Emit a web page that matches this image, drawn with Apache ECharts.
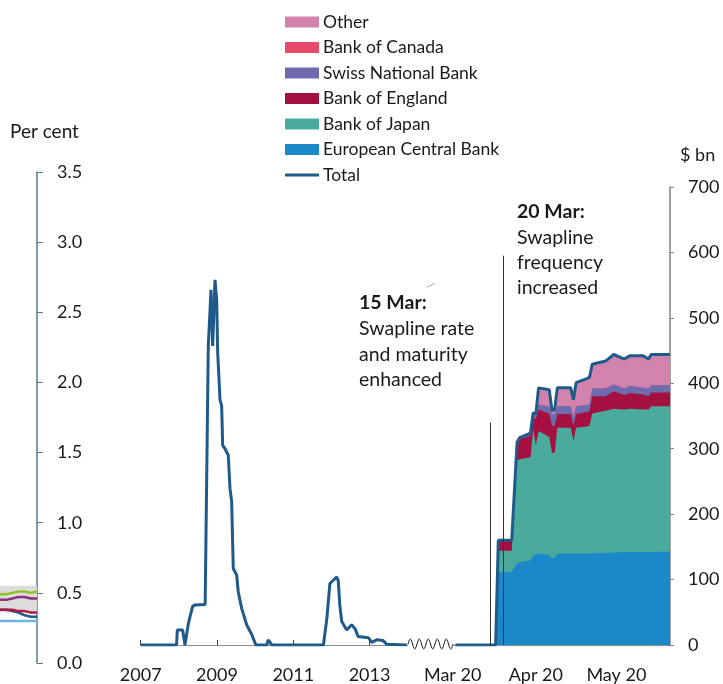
<!DOCTYPE html>
<html>
<head>
<meta charset="utf-8">
<title>US dollar swap lines</title>
<script src="https://cdn.jsdelivr.net/npm/echarts@6/dist/echarts.min.js"></script>
<style>
  html, body { margin: 0; padding: 0; background: #fff; }
  #chart { width: 723px; height: 684px; }
</style>
</head>
<body>
<div id="chart"></div>
<script>
// left panel (per cent) - only its right edge shows in this crop
const leftCats = [1, 2, 3, 4, 5, 6, 7];
const leftGreen = [0.49, 0.49, 0.50, 0.51, 0.51, 0.50, 0.51];
const leftPurple = [0.45, 0.45, 0.46, 0.47, 0.47, 0.46, 0.46];
const leftCrimson = [0.38, 0.38, 0.38, 0.37, 0.37, 0.36, 0.36];
const leftNavy = [0.38, 0.38, 0.37, 0.36, 0.34, 0.33, 0.33];
const leftLightBlue = [0.30, 0.30, 0.30, 0.30, 0.30, 0.30, 0.30];
const leftBandLow = [0.36, 0.36, 0.36, 0.36, 0.36, 0.36, 0.36];
const leftBandHigh = [0.55, 0.55, 0.55, 0.55, 0.55, 0.55, 0.55];

// 2007-2013 swap line usage ($ bn), x in decimal years
const crisisYears = [2007.00, 2007.94, 2007.96, 2008.10, 2008.16, 2008.21, 2008.25, 2008.36, 2008.42, 2008.69,
  2008.725, 2008.772, 2008.843, 2008.887, 2008.948, 2008.992, 2009.018, 2009.052, 2009.079, 2009.123,
  2009.149, 2009.21, 2009.296, 2009.341, 2009.385, 2009.427, 2009.516, 2009.558, 2009.647, 2009.778,
  2009.91, 2010.02, 2010.31, 2010.34, 2010.39, 2010.44, 2011.79, 2011.88, 2011.96, 2012.05,
  2012.14, 2012.18, 2012.22, 2012.27, 2012.40, 2012.53, 2012.62, 2012.70, 2012.97, 2013.06,
  2013.19, 2013.35, 2013.45, 2013.98];
const crisisTotal = [0, 0, 23, 23, 0, 0, 33, 59, 61, 62,
  64, 457, 543, 457, 558, 528, 447, 444, 375, 365,
  305, 300, 290, 239, 219, 117, 107, 81, 56, 31,
  16, 0, 0, 8, 6, 0, 0, 40, 94, 99,
  104, 98, 61, 36, 23, 31, 25, 13, 11, 4,
  8, 7, 1, 0];
const crisisTicks = [2007, 2009, 2011, 2013];

// 2020 swap line usage by central bank ($ bn)
const swapDates = ['2020-03-02', '2020-03-17', '2020-03-18', '2020-03-23', '2020-03-25', '2020-03-26',
  '2020-03-30', '2020-03-31', '2020-04-01', '2020-04-02', '2020-04-06', '2020-04-07', '2020-04-08',
  '2020-04-09', '2020-04-14', '2020-04-15', '2020-04-16', '2020-04-20', '2020-04-21', '2020-04-22',
  '2020-04-27', '2020-04-30', '2020-05-04', '2020-05-06', '2020-05-11', '2020-05-13', '2020-05-14',
  '2020-05-21'];
const ecb = [0, 0, 112, 112, 125, 127, 129, 136, 138, 140, 138, 132, 134, 140, 140, 140, 140, 140, 140, 140,
  141, 141, 142, 142, 142, 142, 142, 143];
const boj = [0, 0, 32, 32, 157, 157, 158, 194, 167, 187, 180, 162, 160, 192, 192, 172, 192, 194, 195, 214,
  217, 220, 218, 219, 218, 218, 223, 222];
const boe = [0, 0, 16, 16, 28, 31, 33, 18, 40, 33, 36, 41, 41, 21, 21, 23, 21, 22, 22, 26,
  22, 27, 22, 24, 23, 20, 21, 21];
const snb = [0, 0, 0, 0, 0, 1, 2, 4, 5, 8, 10, 18, 18, 12, 12, 13, 12, 11, 11, 12,
  12, 10, 10, 11, 10, 12, 11, 11];
const boc = [0, 0, 0, 0, 0, 0, 0, 0, 0, 0, 0, 0, 0, 0, 0, 0, 0, 0, 0, 0,
  0, 0, 0, 0, 0, 0, 0, 0];
const other = [0, 0, 0, 0, 0, 1, 2, 3, 3, 25, 26, 5, 7, 28, 28, 27, 36, 40, 41, 37,
  42, 46, 45, 46, 49, 45, 47, 47];
const total = [0, 0, 160, 160, 310, 317, 324, 355, 353, 393, 390, 358, 360, 393, 393, 375, 401, 407, 409, 429,
  434, 444, 437, 442, 442, 437, 444, 444];
const recentStart = '2020-03-01';
const recentEnd = '2020-05-21';
const recentTicks = ['2020-03-01', '2020-04-01', '2020-05-01'];
const recentLabels = ['Mar 20', 'Apr 20', 'May 20'];
// policy dates and how far up each marker line reaches ($ bn)
const policyDates = ['2020-03-15', '2020-03-20'];
const policyLineTops = [340, 595];

const FONT = 'Lato';
const TOTAL_COLOR = '#1f5a8a';
const bankColors = {
  'European Central Bank': '#1a88c9',
  'Bank of Japan': '#4aab9c',
  'Bank of England': '#a4103f',
  'Swiss National Bank': '#6f6baf',
  'Bank of Canada': '#e84a6c',
  'Other': '#d283ad'
};

// 2020 axis runs in days counted from 1 March
const dayOf = (s) => {
  const [y, m, d] = s.split('-').map(Number);
  return Math.round((Date.UTC(y, m - 1, d) - Date.UTC(2020, 2, 1)) / 86400000);
};
const pairs = (xs, ys) => xs.map((x, i) => [x, ys[i]]);
const dayPairs = (ys) => swapDates.map((d, i) => [dayOf(d), ys[i]]);
const tickDays = recentTicks.map(dayOf);

const chart = echarts.init(document.getElementById('chart'));

// stack bottom to top; each layer is drawn as its running total filled down to zero,
// top layer first so the lower ones paint over it
const stackOrder = [
  ['European Central Bank', ecb],
  ['Bank of Japan', boj],
  ['Bank of England', boe],
  ['Swiss National Bank', snb],
  ['Bank of Canada', boc],
  ['Other', other]
];
let running = swapDates.map(() => 0);
const areaSeries = stackOrder.map(([name, vals]) => {
  running = running.map((r, i) => r + vals[i]);
  return {
    name,
    type: 'line',
    xAxisIndex: 1,
    yAxisIndex: 1,
    data: dayPairs(running),
    showSymbol: false,
    lineStyle: { width: 0 },
    itemStyle: { color: bankColors[name] },
    areaStyle: { color: bankColors[name], opacity: 1 },
    silent: true
  };
}).reverse();

const leftLine = (data, color) => ({
  type: 'line', xAxisIndex: 2, yAxisIndex: 2, data, showSymbol: false, silent: true,
  lineStyle: { color, width: 2.5 }, itemStyle: { color }
});

// little zigzag for the axis break
const squiggle = [];
for (let i = 0; i <= 60; i++) {
  squiggle.push([408 + 45 * i / 60, 644 - 5 * Math.sin(i / 60 * Math.PI * 10)]);
}

const txt = (x, y, text, size, bold) => ({
  type: 'text', left: x, top: y - size * 0.48,
  style: { text, fill: '#1a1a1a', font: (bold ? 'bold ' : '') + size + 'px ' + FONT }
});

const tickLabel = { fontSize: 18, color: '#1a1a1a', fontFamily: FONT };

const option = {
  animation: false,
  backgroundColor: '#fff',
  textStyle: { fontFamily: FONT },
  legend: {
    orient: 'vertical',
    left: 285,
    top: 13,
    padding: 0,
    itemWidth: 34,
    itemHeight: 11,
    itemGap: 7.5,
    selectedMode: false,
    textStyle: { fontSize: 17.5, color: '#1a1a1a', fontFamily: FONT, lineHeight: 17, padding: [0, 0, 0, -1] },
    data: [
      { name: 'Other', icon: 'rect' },
      { name: 'Bank of Canada', icon: 'rect' },
      { name: 'Swiss National Bank', icon: 'rect' },
      { name: 'Bank of England', icon: 'rect' },
      { name: 'Bank of Japan', icon: 'rect' },
      { name: 'European Central Bank', icon: 'rect' },
      { name: 'Total', icon: 'path://M0,0 L35,0 L35,3 L0,3 Z', itemStyle: { color: TOTAL_COLOR } }
    ]
  },
  grid: [
    { left: 140.7, top: 187, width: 267, height: 460 },
    { left: 452.7, top: 187, width: 217.3, height: 460 },
    { left: 0, top: 172, width: 37, height: 491 }
  ],
  xAxis: [
    {
      gridIndex: 0, type: 'value', min: 2007, max: 2014,
      axisLine: { onZero: false, lineStyle: { color: '#8c8c8c', width: 1 } },
      axisTick: { inside: true, length: 5, customValues: crisisTicks, lineStyle: { color: '#404040' } },
      axisLabel: { ...tickLabel, customValues: crisisTicks, margin: 21, formatter: (v) => String(v) },
      splitLine: { show: false }
    },
    {
      gridIndex: 1, type: 'value', min: dayOf(recentStart), max: dayOf(recentEnd),
      axisLine: { onZero: false, lineStyle: { color: '#8c8c8c', width: 1 } },
      axisTick: { inside: true, length: 5, customValues: tickDays.slice(1), lineStyle: { color: '#404040' } },
      axisLabel: {
        ...tickLabel, customValues: tickDays, margin: 21,
        formatter: (v) => recentLabels[tickDays.indexOf(v)] || ''
      },
      splitLine: { show: false }
    },
    {
      gridIndex: 2, type: 'category', data: leftCats, boundaryGap: false, show: false
    }
  ],
  yAxis: [
    { gridIndex: 0, type: 'value', min: 0, max: 700, show: false },
    {
      gridIndex: 1, type: 'value', position: 'right', min: 0, max: 700, interval: 100,
      axisLine: { show: true, onZero: false, lineStyle: { color: '#808080', width: 1.5 } },
      axisTick: { show: true, length: 4, lineStyle: { color: '#808080' } },
      axisLabel: { ...tickLabel, margin: 18 },
      splitLine: { show: false }
    },
    {
      gridIndex: 2, type: 'value', position: 'right', min: 0, max: 3.5, interval: 0.5,
      axisLine: { show: true, onZero: false, lineStyle: { color: '#5a7796', width: 1.5 } },
      axisTick: { show: true, length: 6, lineStyle: { color: '#5a7796' } },
      axisLabel: { ...tickLabel, margin: 20, formatter: (v) => v.toFixed(1) },
      splitLine: { show: false }
    }
  ],
  series: [
    // left panel: grey range band then lines
    { type: 'line', xAxisIndex: 2, yAxisIndex: 2, stack: 'band', data: leftBandLow, showSymbol: false,
      lineStyle: { width: 0 }, silent: true },
    { type: 'line', xAxisIndex: 2, yAxisIndex: 2, stack: 'band', showSymbol: false, silent: true,
      data: leftBandHigh.map((v, i) => +(v - leftBandLow[i]).toFixed(2)),
      lineStyle: { width: 0 }, areaStyle: { color: '#dcdcdc', opacity: 1 } },
    leftLine(leftLightBlue, '#6cb4e4'),
    leftLine(leftNavy, TOTAL_COLOR),
    leftLine(leftCrimson, '#b0184a'),
    leftLine(leftPurple, '#8a2f7a'),
    leftLine(leftGreen, '#8fc31f'),

    // 2007-2013 total
    {
      name: 'Total', type: 'line', xAxisIndex: 0, yAxisIndex: 0,
      data: pairs(crisisYears, crisisTotal), showSymbol: false, silent: true,
      lineStyle: { color: TOTAL_COLOR, width: 3 }, itemStyle: { color: TOTAL_COLOR }
    },

    ...areaSeries,

    // 2020 total
    {
      name: 'Total', type: 'line', xAxisIndex: 1, yAxisIndex: 1,
      data: dayPairs(total), showSymbol: false, silent: true, z: 5,
      lineStyle: { color: TOTAL_COLOR, width: 3 }, itemStyle: { color: TOTAL_COLOR }
    },

    // the two policy dates, drawn above the areas
    {
      type: 'line', xAxisIndex: 1, yAxisIndex: 1, data: [], z: 8, silent: true,
      markLine: {
        silent: true, symbol: 'none', z: 8, label: { show: false },
        lineStyle: { color: '#333', width: 1, type: 'solid' },
        data: policyDates.map((d, i) => [
          { coord: [dayOf(d), 0] },
          { coord: [dayOf(d), policyLineTops[i]] }
        ])
      }
    }
  ],
  graphic: [
    { type: 'polyline', shape: { points: squiggle }, style: { stroke: '#1a1a1a', lineWidth: 1, fill: null } },
    { type: 'line', shape: { x1: 426, y1: 287.3, x2: 435, y2: 283.3 }, style: { stroke: '#b0b0b0', lineWidth: 1 } },
    txt(10, 131, 'Per cent', 19),
    txt(680, 155, '$ bn', 18),
    txt(359, 302, '15 Mar:', 19.5, true),
    txt(359, 328, 'Swapline rate', 19.5),
    txt(359, 354, 'and maturity', 19.5),
    txt(359, 379, 'enhanced', 19.5),
    txt(517, 211, '20 Mar:', 19.5, true),
    txt(517, 237, 'Swapline', 19.5),
    txt(517, 262, 'frequency', 19.5),
    txt(517, 287, 'increased', 19.5)
  ]
};

chart.setOption(option);

window.addEventListener('resize', () => {
  chart.resize();
});
</script>
</body>
</html>
